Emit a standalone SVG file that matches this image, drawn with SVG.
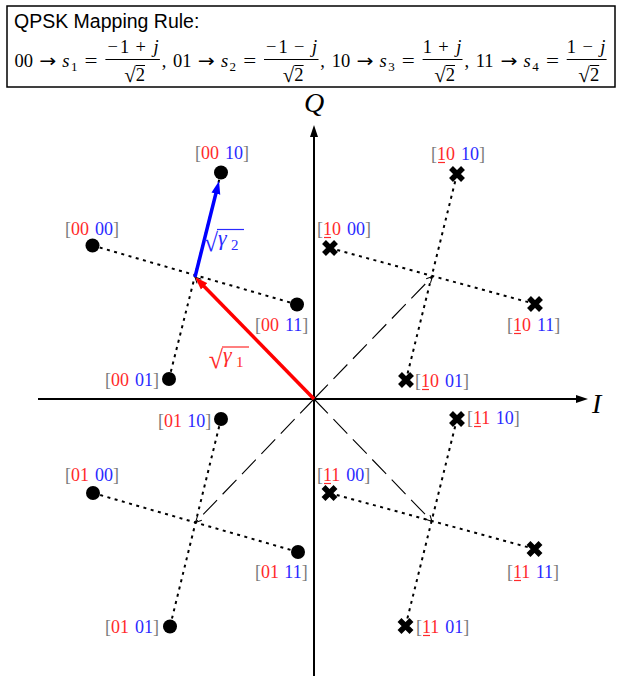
<svg xmlns="http://www.w3.org/2000/svg" width="631" height="677" viewBox="0 0 631 677">
<style>
text{font-family:'Liberation Serif','DejaVu Serif',serif}
.sans{font-family:'Liberation Sans',Arial,sans-serif}
.f text{font-size:18.5px;fill:#000}
.f .m{text-anchor:middle}
.f .sub{font-size:13px}
.f .arw{font-family:'DejaVu Sans',sans-serif;font-size:18px}
.f .rad{font-size:21px}
.it{font-style:italic}
.lb{font-size:18px}
.g{fill:#7a7a7a}
.r{fill:#ff2a2a}
.b{fill:#2a2aff}
.ul{stroke:#ff2a2a;stroke-width:1.2}
.bar{stroke:#000;stroke-width:1}
.dot{stroke:#000;stroke-width:2;stroke-dasharray:3 4.5;fill:none}
.dash{stroke:#000;stroke-width:1.1;stroke-dasharray:20 8;fill:none}
.axis{stroke:#000;stroke-width:2;fill:none}
</style>
<defs>
<marker id="ax" viewBox="0 0 12 10" refX="2" refY="5" markerWidth="12" markerHeight="10" markerUnits="userSpaceOnUse" orient="auto"><path d="M0,1 L12,5 L0,9 Z" fill="#000"/></marker>
<marker id="ar" viewBox="0 0 13 10" refX="3" refY="5" markerWidth="13" markerHeight="10" markerUnits="userSpaceOnUse" orient="auto"><path d="M0,0.5 L13,5 L0,9.5 Z" fill="#ff0000"/></marker>
<marker id="ab" viewBox="0 0 13 10" refX="3" refY="5" markerWidth="13" markerHeight="10" markerUnits="userSpaceOnUse" orient="auto"><path d="M0,0.5 L13,5 L0,9.5 Z" fill="#0000ff"/></marker>
<marker id="ad" viewBox="0 0 8 8" refX="7" refY="4" markerWidth="8" markerHeight="8" markerUnits="userSpaceOnUse" orient="auto"><path d="M1,1 L7,4 L1,7" fill="none" stroke="#000" stroke-width="1"/></marker>
<path id="x" d="M-6,-6L6,6M-6,6L6,-6" stroke="#000" stroke-width="5.5" fill="none"/>
</defs>

<g id="header">
<rect x="7" y="6" width="608" height="81" fill="#fff" stroke="#000" stroke-width="1.5"/>
<text class="sans" x="14" y="28" font-size="19.5">QPSK Mapping Rule:</text>
<g class="f">
<text x="14.5" y="67">00</text><text class="m arw" x="47.7" y="67" textLength="17" lengthAdjust="spacingAndGlyphs">→</text><text x="62.3" y="67" class="it">s</text><text class="sub" x="71" y="70.5">1</text><text class="m" x="91.1" y="67" textLength="13" lengthAdjust="spacingAndGlyphs">=</text>
<text class="m" x="112.7" y="53">−</text><text class="m" x="124.6" y="53">1</text><text class="m" x="140.7" y="53">+</text><text class="m it" x="156" y="53">j</text>
<line class="bar" x1="105.4" y1="59.5" x2="159.9" y2="59.5"/><text class="rad" x="135.7" y="82" text-anchor="end">√</text><text x="135.7" y="81">2</text><line class="bar" x1="135.7" y1="65.5" x2="145" y2="65.5"/><text x="161.7" y="67">,</text>

<text x="173.1" y="67">01</text><text class="m arw" x="206.3" y="67" textLength="17" lengthAdjust="spacingAndGlyphs">→</text><text x="220.9" y="67" class="it">s</text><text class="sub" x="229.6" y="70.5">2</text><text class="m" x="249.7" y="67" textLength="13" lengthAdjust="spacingAndGlyphs">=</text>
<text class="m" x="271.3" y="53">−</text><text class="m" x="283.2" y="53">1</text><text class="m" x="299.3" y="53">−</text><text class="m it" x="314.6" y="53">j</text>
<line class="bar" x1="264" y1="59.5" x2="318.5" y2="59.5"/><text class="rad" x="294.3" y="82" text-anchor="end">√</text><text x="294.3" y="81">2</text><line class="bar" x1="294.3" y1="65.5" x2="303.6" y2="65.5"/><text x="320.3" y="67">,</text>

<text x="331.7" y="67">10</text><text class="m arw" x="364.9" y="67" textLength="17" lengthAdjust="spacingAndGlyphs">→</text><text x="379.5" y="67" class="it">s</text><text class="sub" x="388.2" y="70.5">3</text><text class="m" x="408.3" y="67" textLength="13" lengthAdjust="spacingAndGlyphs">=</text>
<text class="m" x="427.3" y="53">1</text><text class="m" x="443.5" y="53">+</text><text class="m it" x="458.7" y="53">j</text>
<line class="bar" x1="422.6" y1="59.5" x2="462.5" y2="59.5"/><text class="rad" x="445.7" y="82" text-anchor="end">√</text><text x="445.7" y="81">2</text><line class="bar" x1="445.7" y1="65.5" x2="455" y2="65.5"/><text x="464.4" y="67">,</text>

<text x="475.8" y="67">11</text><text class="m arw" x="509" y="67" textLength="17" lengthAdjust="spacingAndGlyphs">→</text><text x="523.6" y="67" class="it">s</text><text class="sub" x="532.3" y="70.5">4</text><text class="m" x="552.4" y="67" textLength="13" lengthAdjust="spacingAndGlyphs">=</text>
<text class="m" x="571.4" y="53">1</text><text class="m" x="587.6" y="53">−</text><text class="m it" x="602.8" y="53">j</text>
<line class="bar" x1="566.7" y1="59.5" x2="606.6" y2="59.5"/><text class="rad" x="589.9" y="82" text-anchor="end">√</text><text x="589.9" y="81">2</text><line class="bar" x1="589.9" y1="65.5" x2="599.2" y2="65.5"/>
</g>
</g>

<g id="axes">
<line class="axis" x1="38" y1="399" x2="578" y2="399" marker-end="url(#ax)"/>
<line class="axis" x1="314" y1="676" x2="314" y2="135" marker-end="url(#ax)"/>
<text x="592" y="413" font-size="28" class="it">I</text>
<text x="304" y="112" font-size="28" class="it">Q</text>
</g>

<g id="connectors">
<line class="dot" x1="92.5" y1="245.5" x2="297" y2="304.5"/>
<line class="dot" x1="221" y1="172.5" x2="169" y2="379"/>
<line class="dot" x1="330" y1="248" x2="535" y2="304"/>
<line class="dot" x1="457" y1="174" x2="406" y2="380"/>
<line class="dot" x1="93" y1="493" x2="298" y2="552"/>
<line class="dot" x1="221" y1="419" x2="170" y2="626.5"/>
<line class="dot" x1="329.5" y1="493" x2="534.5" y2="549"/>
<line class="dot" x1="457" y1="419" x2="405.5" y2="626"/>
<line class="dash" x1="314" y1="399" x2="432.5" y2="276.5" marker-end="url(#ad)"/>
<line class="dash" x1="314" y1="399" x2="195" y2="277" marker-end="url(#ad)"/>
<line class="dash" x1="314" y1="399" x2="195.5" y2="522.5" marker-end="url(#ad)"/>
<line class="dash" x1="314" y1="399" x2="432" y2="521.5" marker-end="url(#ad)"/>
<line x1="314" y1="399" x2="202" y2="284.2" stroke="#ff0000" stroke-width="3.5" marker-end="url(#ar)"/>
<line x1="195" y1="277" x2="216.6" y2="190.7" stroke="#0000ff" stroke-width="3.5" marker-end="url(#ab)"/>
<g id="gamma2">
<text x="218" y="251" class="b" text-anchor="end" font-size="26">√</text><text x="218" y="245" class="b it" font-size="22">γ</text><text x="231" y="250" class="b" font-size="15">2</text><line x1="217" y1="229.5" x2="244" y2="229.5" stroke="#2a2aff" stroke-width="1.2"/>
</g>
<g id="gamma1">
<text x="223" y="368" class="r" text-anchor="end" font-size="26">√</text><text x="223" y="362" class="r it" font-size="22">γ</text><text x="236" y="367" class="r" font-size="15">1</text><line x1="222" y1="347" x2="249" y2="347" stroke="#ff2a2a" stroke-width="1.2"/>
</g>
</g>

<g id="n-00-10"><circle cx="221" cy="172.5" r="7"/><text class="lb" x="195" y="159"><tspan class="g">[</tspan><tspan class="r">00</tspan><tspan class="b" dx="6">10</tspan><tspan class="g">]</tspan></text></g>
<g id="n-00-00"><circle cx="92.5" cy="245.5" r="7"/><text class="lb" x="65" y="235"><tspan class="g">[</tspan><tspan class="r">00</tspan><tspan class="b" dx="6">00</tspan><tspan class="g">]</tspan></text></g>
<g id="n-00-11"><circle cx="297" cy="304.5" r="7"/><text class="lb" x="255" y="331"><tspan class="g">[</tspan><tspan class="r">00</tspan><tspan class="b" dx="6">11</tspan><tspan class="g">]</tspan></text></g>
<g id="n-00-01"><circle cx="169" cy="379" r="7"/><text class="lb" x="105" y="386"><tspan class="g">[</tspan><tspan class="r">00</tspan><tspan class="b" dx="6">01</tspan><tspan class="g">]</tspan></text></g>

<g id="n-10-10"><use href="#x" x="457" y="174"/><text class="lb" x="431" y="160"><tspan class="g">[</tspan><tspan class="r">10</tspan><tspan class="b" dx="6">10</tspan><tspan class="g">]</tspan></text><line class="ul" x1="438" y1="162.5" x2="445" y2="162.5"/></g>
<g id="n-10-00"><use href="#x" x="330" y="248"/><text class="lb" x="317" y="235"><tspan class="g">[</tspan><tspan class="r">10</tspan><tspan class="b" dx="6">00</tspan><tspan class="g">]</tspan></text><line class="ul" x1="324" y1="237.5" x2="331" y2="237.5"/></g>
<g id="n-10-11"><use href="#x" x="535" y="304"/><text class="lb" x="507" y="331"><tspan class="g">[</tspan><tspan class="r">10</tspan><tspan class="b" dx="6">11</tspan><tspan class="g">]</tspan></text><line class="ul" x1="514" y1="333.5" x2="521" y2="333.5"/></g>
<g id="n-10-01"><use href="#x" x="406" y="380"/><text class="lb" x="415" y="387"><tspan class="g">[</tspan><tspan class="r">10</tspan><tspan class="b" dx="6">01</tspan><tspan class="g">]</tspan></text><line class="ul" x1="422" y1="389.5" x2="429" y2="389.5"/></g>

<g id="n-01-10"><circle cx="221" cy="419" r="7"/><text class="lb" x="158" y="427"><tspan class="g">[</tspan><tspan class="r">01</tspan><tspan class="b" dx="6">10</tspan><tspan class="g">]</tspan></text></g>
<g id="n-01-00"><circle cx="93" cy="493" r="7"/><text class="lb" x="65" y="481"><tspan class="g">[</tspan><tspan class="r">01</tspan><tspan class="b" dx="6">00</tspan><tspan class="g">]</tspan></text></g>
<g id="n-01-11"><circle cx="298" cy="552" r="7"/><text class="lb" x="255" y="578"><tspan class="g">[</tspan><tspan class="r">01</tspan><tspan class="b" dx="6">11</tspan><tspan class="g">]</tspan></text></g>
<g id="n-01-01"><circle cx="170" cy="626.5" r="7"/><text class="lb" x="105" y="633"><tspan class="g">[</tspan><tspan class="r">01</tspan><tspan class="b" dx="6">01</tspan><tspan class="g">]</tspan></text></g>

<g id="n-11-10"><use href="#x" x="457" y="419"/><text class="lb" x="467" y="424"><tspan class="g">[</tspan><tspan class="r">11</tspan><tspan class="b" dx="6">10</tspan><tspan class="g">]</tspan></text><line class="ul" x1="474" y1="426.5" x2="481" y2="426.5"/></g>
<g id="n-11-00"><use href="#x" x="329.5" y="493"/><text class="lb" x="317" y="481"><tspan class="g">[</tspan><tspan class="r">11</tspan><tspan class="b" dx="6">00</tspan><tspan class="g">]</tspan></text><line class="ul" x1="324" y1="483.5" x2="331" y2="483.5"/></g>
<g id="n-11-11"><use href="#x" x="534.5" y="549"/><text class="lb" x="507" y="578"><tspan class="g">[</tspan><tspan class="r">11</tspan><tspan class="b" dx="6">11</tspan><tspan class="g">]</tspan></text><line class="ul" x1="514" y1="580.5" x2="521" y2="580.5"/></g>
<g id="n-11-01"><use href="#x" x="405.5" y="626"/><text class="lb" x="416" y="633"><tspan class="g">[</tspan><tspan class="r">11</tspan><tspan class="b" dx="6">01</tspan><tspan class="g">]</tspan></text><line class="ul" x1="423" y1="635.5" x2="430" y2="635.5"/></g>
</svg>
